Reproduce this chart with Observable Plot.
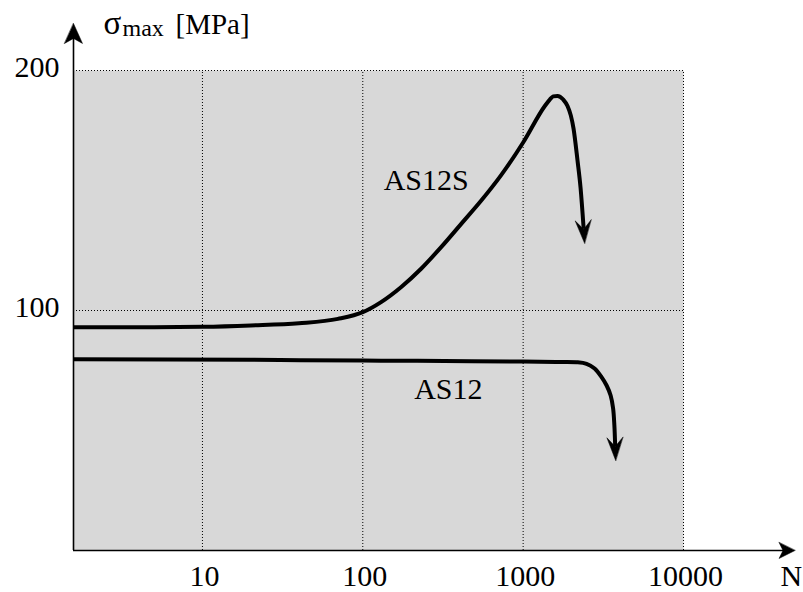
<!DOCTYPE html>
<html>
<head>
<meta charset="utf-8">
<script src="https://cdn.jsdelivr.net/npm/d3@7"></script>
<script src="https://cdn.jsdelivr.net/npm/@observablehq/plot@0.6"></script>
<style>
  html, body { margin: 0; padding: 0; background: white; }
</style>
</head>
<body>
<div id="chart"></div>
<script>
// ---- data ----
const xMin = 1.57;
const xMax = 10000;
const yMax = 200;
const xTicks = [10, 100, 1000, 10000];
const xTickLabels = ["10", "100", "1000", "10000"];
const yTicks = [100, 200];
const yTickLabels = ["100", "200"];
const xAxisEnd = 49600;   // arrow tip of N axis (beyond the frame)
const yAxisEnd = 219.6;   // arrow tip of sigma axis

const seriesNames = ["AS12S", "AS12"];
const as12sN     = [1.57, 5, 10, 20, 40, 70, 100, 130, 173, 231, 308, 411, 548, 731, 1000, 1365, 1466, 1540, 1637, 1778, 1891, 1984, 2062, 2183, 2280, 2385];
const as12sSigma = [93.0, 93.0, 93.2, 93.8, 94.7, 96.5, 99.3, 103.5, 109.7, 117.4, 126.4, 136.1, 145.8, 156.5, 170, 185.2, 187.9, 189.2, 189.4, 187.9, 185.2, 181.2, 175.8, 162.5, 151.2, 134];
const as12N      = [1.57, 20, 41, 130, 476, 1000, 1600, 2153, 2486, 2790, 3083, 3316, 3513, 3640, 3706, 3750];
const as12Sigma  = [79.7, 79.5, 79.3, 79.1, 78.9, 78.7, 78.55, 78.46, 77.8, 75.8, 72.2, 68.75, 64.6, 59.2, 52.1, 43.3];
const tipN       = [2417, 3776];
const tipSigma   = [128, 37.5];
const labelN     = [135, 209];
const labelSigma = [150.4, 63.3];

const titleSymbol = "σ";
const titleSub = "max";
const titleUnit = "[MPa]";
const xLabel = "N";

// ---- build tables ----
const curveData = [
  ...as12sN.map((n, i) => ({N: n, sigma: as12sSigma[i], series: seriesNames[0]})),
  ...as12N.map((n, i) => ({N: n, sigma: as12Sigma[i], series: seriesNames[1]}))
];

const W = 803, H = 592;
const mL = 73, mR = 120, mT = 70, mB = 42;
const xs = Plot.scale({x: {type: "log", domain: [xMin, xMax], range: [mL, W - mR]}});
const ys = Plot.scale({y: {type: "linear", domain: [0, yMax], range: [H - mB, mT]}});

const lastPoints = [
  {N: as12sN[as12sN.length - 1], sigma: as12sSigma[as12sSigma.length - 1]},
  {N: as12N[as12N.length - 1], sigma: as12Sigma[as12Sigma.length - 1]}
];
const tips = tipN.map((n, i) => {
  const p = lastPoints[i];
  const dx = xs.apply(n) - xs.apply(p.N);
  const dy = ys.apply(tipSigma[i]) - ys.apply(p.sigma);
  return {N: n, sigma: tipSigma[i], rotate: Math.atan2(dx, -dy) * 180 / Math.PI};
});
const labels = seriesNames.map((s, i) => ({text: s, N: labelN[i], sigma: labelSigma[i]}));

// barbed, filled arrow head; tip at (0,-l), barbs at (+-w, 0), notch n from tip
const head = (w, n) => ({
  draw(ctx, l) {
    ctx.moveTo(0, -l);
    ctx.lineTo(w, 0);
    ctx.lineTo(0, -l + n);
    ctx.lineTo(-w, 0);
    ctx.closePath();
  }
});

const serif = "'Liberation Serif', 'Times New Roman', Times, serif";

const chart = Plot.plot({
  width: W,
  height: H,
  marginLeft: mL,
  marginRight: mR,
  marginTop: mT,
  marginBottom: mB,
  style: {fontFamily: serif, fontSize: "30px", background: "white", color: "black", overflow: "visible"},
  x: {type: "log", domain: [xMin, xMax]},
  y: {domain: [0, yMax]},
  marks: [
    Plot.frame({fill: "url(#stipple)", stroke: "none"}),
    Plot.ruleX(xTicks, {y1: 0, y2: yMax, stroke: "black", strokeWidth: 1, strokeDasharray: "1,2"}),
    Plot.ruleY(yTicks, {x1: xMin, x2: xMax, stroke: "black", strokeWidth: 1, strokeDasharray: "1,2"}),
    // axis lines with arrow heads
    Plot.ruleX([xMin], {y1: 0, y2: yAxisEnd - 4, stroke: "black", strokeWidth: 1.6}),
    Plot.ruleY([0], {x1: xMin, x2: xAxisEnd * 0.93, stroke: "black", strokeWidth: 1.6}),
    Plot.vector([{N: xMin, sigma: yAxisEnd}], {x: "N", y: "sigma", anchor: "end", length: 20, rotate: 0,
      shape: head(9, 15), fill: "black", stroke: "black", strokeWidth: 0.5}),
    Plot.vector([{N: xAxisEnd, sigma: 0}], {x: "N", y: "sigma", anchor: "end", length: 16, rotate: 90,
      shape: head(8, 12), fill: "black", stroke: "black", strokeWidth: 0.5}),
    // curves
    Plot.line(curveData.filter(d => d.series === seriesNames[0]), {x: "N", y: "sigma", stroke: "black", strokeWidth: 4, curve: "monotone-x", strokeLinecap: "butt"}),
    Plot.line(curveData.filter(d => d.series === seriesNames[1]), {x: "N", y: "sigma", stroke: "black", strokeWidth: 4, curve: "catmull-rom", strokeLinecap: "butt"}),
    Plot.vector(tips, {x: "N", y: "sigma", rotate: "rotate", anchor: "end", length: 23,
      shape: head(8, 14), fill: "black", stroke: "black", strokeWidth: 0.5}),
    // curve labels
    Plot.text(labels, {x: "N", y: "sigma", text: "text", textAnchor: "start", lineAnchor: "bottom", fontSize: 30}),
    // axes tick labels
    Plot.axisX(xTicks, {anchor: "bottom", tickSize: 0, tickPadding: 14, dx: 2,
      tickFormat: (d) => xTickLabels[xTicks.indexOf(d)], fontSize: 30, label: null}),
    Plot.axisY(yTicks, {anchor: "left", tickSize: 0, tickPadding: 14, dy: -3,
      tickFormat: (d) => yTickLabels[yTicks.indexOf(d)], fontSize: 30, label: null}),
    // title and axis name
    Plot.text([titleSymbol], {text: d => d, frameAnchor: "top-left", dx: 30, dy: -37, textAnchor: "start", lineAnchor: "bottom", fontSize: 33}),
    Plot.text([titleSub], {text: d => d, frameAnchor: "top-left", dx: 49, dy: -35, textAnchor: "start", lineAnchor: "bottom", fontSize: 24}),
    Plot.text([titleUnit], {text: d => d, frameAnchor: "top-left", dx: 102, dy: -37, textAnchor: "start", lineAnchor: "bottom", fontSize: 29}),
    Plot.text([xLabel], {text: d => d, frameAnchor: "bottom-right", dx: 97, dy: 35, textAnchor: "start", lineAnchor: "bottom", fontSize: 30})
  ]
});

// stipple pattern for the plotting area
const defs = d3.select(chart).insert("defs", ":first-child");
const pat = defs.append("pattern").attr("id", "stipple").attr("patternUnits", "userSpaceOnUse")
  .attr("width", 2).attr("height", 2);
pat.append("rect").attr("width", 2).attr("height", 2).attr("fill", "#e6e6e6");
pat.append("rect").attr("x", 0).attr("y", 0).attr("width", 1).attr("height", 1).attr("fill", "#c9c9c9");
pat.append("rect").attr("x", 1).attr("y", 1).attr("width", 1).attr("height", 1).attr("fill", "#c9c9c9");

document.getElementById("chart").appendChild(chart);
</script>
</body>
</html>
